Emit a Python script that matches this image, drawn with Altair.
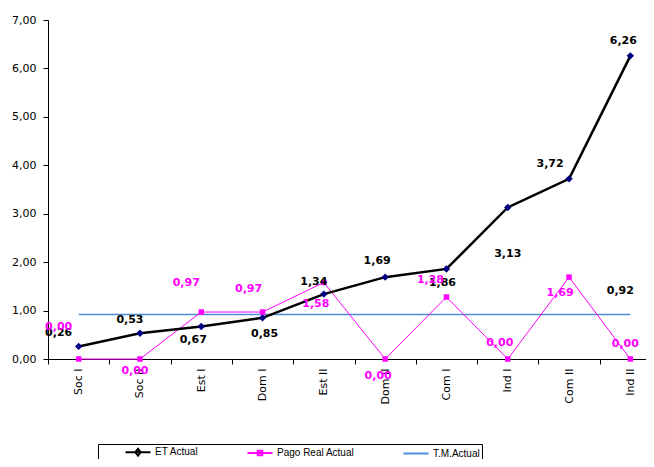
import altair as alt
import pandas as pd

categories = ["Soc I", "Soc II", "Est I", "Dom I", "Est II", "Dom II", "Com I", "Ind I", "Com II", "Ind II"]
et_actual = [0.26, 0.53, 0.67, 0.85, 1.34, 1.69, 1.86, 3.13, 3.72, 6.26]
pago_real = [0.00, 0.00, 0.97, 0.97, 1.58, 0.00, 1.28, 0.00, 1.69, 0.00]
tm_actual = [0.92] * 10
series_names = ["ET Actual", "Pago Real Actual", "T.M.Actual"]
series_colors = ["#000000", "#FF00FF", "#4A8FD8"]
legend_shapes = ["M-2.5,0H2.5M0,-0.7L0.55,0L0,0.7L-0.55,0Z",
                 "M-2.5,0H2.5M-0.45,-0.45H0.45V0.45H-0.45Z",
                 "M-2.5,0H2.5"]

# data-label placement (pixel offsets from each point)
et_dx = [-20, -10, -8, 2, -10, -8, -4, 0, -19, -7]
et_dy = [-13, -13, 13, 16, -12, -16, 14, 47, -15, -15]
pago_dx = [-20, -5, -15, -14, -8, -7, -16, -8, -9, -5]
pago_dy = [-32, 12, -29, -23, 22, 17, -17, -16, 16, -15]
tm_dx = [-10]
tm_dy = [-23]


def fmt(v):
    return f"{v:.2f}".replace(".", ",")


rows = []
for s, vals in zip(series_names, [et_actual, pago_real, tm_actual]):
    for c, v in zip(categories, vals):
        rows.append({"cat": c, "series": s, "value": v})
df = pd.DataFrame(rows)

et_lab = pd.DataFrame({"cat": categories, "value": et_actual,
                       "txt": [fmt(v) for v in et_actual], "dx": et_dx, "dy": et_dy})
pago_lab = pd.DataFrame({"cat": categories, "value": pago_real,
                         "txt": [fmt(v) for v in pago_real], "dx": pago_dx, "dy": pago_dy})
tm_lab = pd.DataFrame({"cat": [categories[-1]], "value": [tm_actual[-1]],
                       "txt": [fmt(tm_actual[-1])], "dx": tm_dx, "dy": tm_dy})

FONT = "DejaVu Sans"

x_enc = alt.X("cat:N", sort=categories,
              scale=alt.Scale(type="band", paddingInner=0, paddingOuter=0, range=[0, 613]),
              axis=alt.Axis(title=None, labelAngle=270, tickBand="extent", grid=False,
                            domainColor="black", tickColor="black", tickSize=5,
                            labelFont=FONT, labelFontSize=11, labelColor="black",
                            labelPadding=4))
y_enc = alt.Y("value:Q", scale=alt.Scale(domain=[0, 7], nice=False),
              axis=alt.Axis(title=None, values=[0, 1, 2, 3, 4, 5, 6, 7], grid=False,
                            labelExpr="replace(format(datum.value, '.2f'), '.', ',')",
                            domainColor="black", tickColor="black", tickSize=5,
                            labelFont=FONT, labelFontSize=11, labelColor="black",
                            labelPadding=7))

legend = alt.Legend(orient="none", legendX=50, legendY=424, direction="horizontal",
                    title=None, strokeColor="black", padding=2, symbolSize=100,
                    symbolOffset=32, columnPadding=23, labelOffset=11,
                    symbolStrokeWidth=2,
                    labelFont="Liberation Sans", labelFontSize=10, labelColor="black")

base = alt.Chart(df)
tm_line = base.transform_filter("datum.series === 'T.M.Actual'").mark_line(
    strokeWidth=1.5, color=series_colors[2]).encode(x=x_enc, y=y_enc)
pago_line = base.transform_filter("datum.series === 'Pago Real Actual'").mark_line(
    strokeWidth=1, color=series_colors[1]).encode(x=x_enc, y=y_enc)
et_line = base.transform_filter("datum.series === 'ET Actual'").mark_line(
    strokeWidth=2.5, color=series_colors[0]).encode(x=x_enc, y=y_enc)

et_pts = base.transform_filter("datum.series === 'ET Actual'").mark_point(
    shape="diamond", filled=True, color="#000080", size=55, opacity=1).encode(x=x_enc, y=y_enc)
pago_pts = base.transform_filter("datum.series === 'Pago Real Actual'").mark_point(
    shape="square", filled=True, color="#FF00FF", size=30, opacity=1).encode(x=x_enc, y=y_enc)

legend_layer = base.transform_filter("false").mark_point(filled=False, opacity=1).encode(
    x=x_enc, y=y_enc,
    color=alt.Color("series:N", scale=alt.Scale(domain=series_names, range=series_colors), legend=legend),
    shape=alt.Shape("series:N", scale=alt.Scale(domain=series_names, range=legend_shapes), legend=legend),
)


def labels(d, color):
    return alt.Chart(d).mark_text(font=FONT, fontSize=11, fontWeight="bold", color=color,
                                  dx=alt.expr("datum.dx"), dy=alt.expr("datum.dy")).encode(
        x=x_enc, y=y_enc, text="txt:N")


chart = alt.layer(
    tm_line, pago_line, et_line, pago_pts, et_pts,
    labels(et_lab, "black"), labels(pago_lab, "#FF00FF"), labels(tm_lab, "black"),
    legend_layer
).properties(
    width=598, height=339,
    autosize=alt.AutoSizeParams(type="none"),
    padding={"left": 40, "top": 12, "right": 0, "bottom": 100},
    background="white"
).configure_view(stroke=None)

chart.save("out.html", embed_options={"renderer": "svg", "actions": False})
